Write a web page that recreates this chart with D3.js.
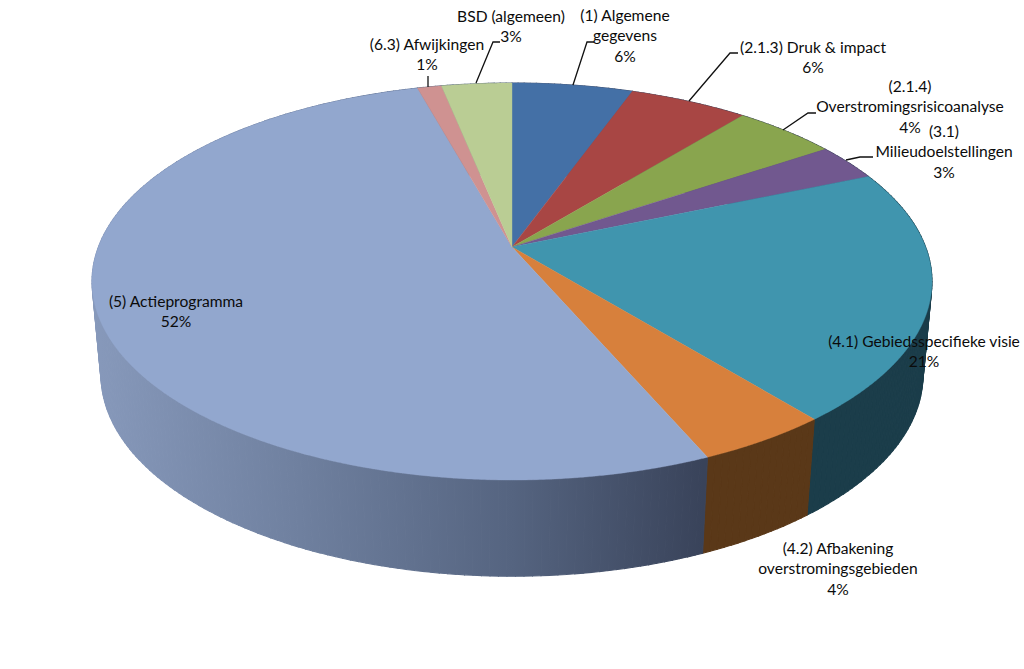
<!DOCTYPE html>
<html><head><meta charset="utf-8">
<script src="https://cdn.jsdelivr.net/npm/d3@7"></script>
<style>html,body{margin:0;background:#fff}svg{display:block}</style>
</head><body><svg id="c" width="1024" height="669"></svg>
<script>
// Data (clockwise from 12 o'clock)
const categories = [["(1) Algemene","gegevens"],["(2.1.3) Druk & impact"],["(2.1.4)","Overstromingsrisicoanalyse"],["(3.1)","Milieudoelstellingen"],["(4.1) Gebiedsspecifieke visie"],["(4.2) Afbakening","overstromingsgebieden"],["(5) Actieprogramma"],["(6.3) Afwijkingen"],["BSD (algemeen)"]];
const values = [5.5, 5.4, 4.7, 3.0, 20.5, 4.4, 52.2, 1.1, 3.2];
const shownPercent = ["6%","6%","4%","3%","21%","4%","52%","1%","3%"];
const topColors = ["#4470a6","#a84644","#89a54e","#71588f","#4095ae","#d7803c","#92a7ce","#cf9291","#bacd94"];
const sideColors = [null,null,null,null,"#1b3d4a","#5a3818",null,null,null];

// Label layout (centre x, centre y of first line)
const labelPos = [[625,16],[813,48],[910,87],[944,132],[924,342],[838,549],[176,302],[427,45],[511,17]];
const leaders = [[[573,85],[587,42],[594,42]],[[689,101],[730,53],[738,53]],[[783,130],[808,113],[816,113]],[[846,160],[860,157],[873,157]],null,null,null,[[428,87],[428,76]],[[476,83],[493,42],[500,42]]];

const svg = d3.select("#c");
// Perspective projection of the unit disc on screen
const project = (p) => (a) => {
  const u = Math.sin(a), v = Math.cos(a), w = 1 + p.k * v;
  return [p.cx + p.R * u / w, p.cy - p.S * v / w];
};
const topP = {cx:512, cy:247, R:413.6, S:192.5, k:0.1738};
const botP = {cx:512, cy:340.9, R:405, S:195.3, k:0.17};
const rimTop = project(topP), rimBot = project(botP);

const arcs = d3.pie().sort(null).value(d => d)(values);
const line = d3.line();
const step = Math.PI / 180;

// horizontal shading of the wall
const shadeStops = [[92,"#8799bb"],[300,"#6f809f"],[512,"#556480"],[703,"#39435a"]];
const grad = svg.append("defs").append("linearGradient").attr("id","wall")
  .attr("gradientUnits","userSpaceOnUse").attr("x1",92).attr("x2",703).attr("y1",0).attr("y2",0);
grad.selectAll("stop").data(shadeStops).join("stop")
  .attr("offset", d => (d[0]-92)/(703-92)).attr("stop-color", d => d[1]);

// side wall, drawn as thin strips from the rim down
const gSide = svg.append("g");
arcs.forEach((d, i) => {
  const n = Math.max(1, Math.ceil((d.endAngle - d.startAngle) / step));
  const t = d3.scaleLinear().domain([0, n]).range([d.startAngle, d.endAngle]);
  const col = sideColors[i] || "url(#wall)";
  d3.range(n).forEach(j => {
    const pts = [rimTop(t(j)), rimTop(t(j+1)), rimBot(t(j+1)), rimBot(t(j))];
    gSide.append("path").attr("d", line(pts) + "Z").attr("fill", col).attr("stroke", col).attr("stroke-width", 1.1);
  });
});

// top face
const gTop = svg.append("g");
arcs.forEach((d, i) => {
  const angles = d3.range(d.startAngle, d.endAngle, step / 4).concat([d.endAngle]);
  const pts = [[topP.cx, topP.cy]].concat(angles.map(rimTop));
  gTop.append("path").attr("d", line(pts) + "Z").attr("fill", topColors[i]).attr("stroke", topColors[i]).attr("stroke-width", 0.4);
});

// leaders
leaders.forEach(l => { if (l) svg.append("path").attr("d", line(l)).attr("fill","none").attr("stroke","#111").attr("stroke-width",1.3); });

// labels
const gText = svg.append("g").attr("font-family","Lato, sans-serif").attr("font-size",15.6).attr("fill","#0b0b0b").attr("text-anchor","middle");
categories.forEach((c, i) => {
  const lines = c.concat([shownPercent[i]]);
  lines.forEach((s, j) => {
    gText.append("text").attr("x", labelPos[i][0]).attr("y", labelPos[i][1] + j * 20.3 + 5).text(s);
  });
});
</script></body></html>
